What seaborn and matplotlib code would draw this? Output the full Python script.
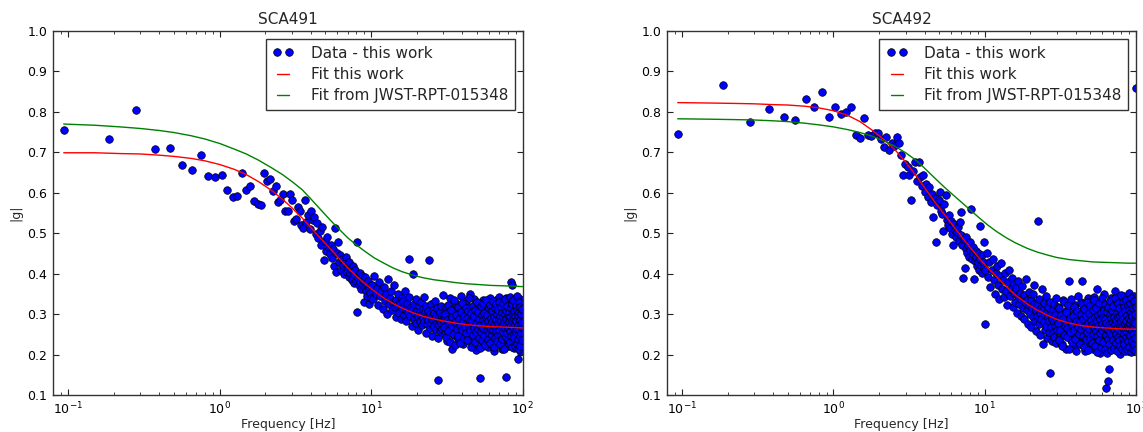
import matplotlib
matplotlib.use("Agg")
import matplotlib.pyplot as plt
from matplotlib.ticker import FixedLocator, FormatStrFormatter, LogLocator
from matplotlib.lines import Line2D
import seaborn as sns

# ---------------- data ----------------
titles = ["SCA491", "SCA492"]
legend_labels = ["Data - this work", "Fit this work", "Fit from JWST-RPT-015348"]
y_ticks = [0.1, 0.2, 0.3, 0.4, 0.5, 0.6, 0.7, 0.8, 0.9, 1.0]

# low-frequency bins (Hz)
freq_lo = [0.094, 0.187, 0.281, 0.374, 0.468, 0.561, 0.655, 0.748, 0.842, 0.935,
           1.03, 1.12, 1.22, 1.31, 1.40, 1.50, 1.59, 1.68, 1.78, 1.87,
           1.96, 2.06, 2.15, 2.24, 2.34, 2.43, 2.52, 2.62, 2.71, 2.81,
           2.90, 2.99, 3.09, 3.18, 3.27, 3.37, 3.46, 3.55, 3.65, 3.74,
           3.83, 3.93, 4.02, 4.11, 4.21, 4.30, 4.39, 4.49, 4.58, 4.68,
           4.77, 4.86, 4.96, 5.05, 5.14, 5.24, 5.33, 5.42, 5.52, 5.61,
           5.70, 5.80, 5.89, 5.98, 6.08, 6.17, 6.26, 6.36, 6.45, 6.55,
           6.64, 6.73, 6.83, 6.92, 7.01, 7.11, 7.20, 7.29, 7.39, 7.48,
           7.57, 7.67, 7.76, 7.85, 7.95, 8.04, 8.13, 8.23, 8.32, 8.42,
           8.51, 8.60, 8.70, 8.79, 8.88, 8.98, 9.07, 9.16, 9.26, 9.35,
           9.44, 9.54, 9.63, 9.72, 9.82, 9.91, 10.00]

g_a_lo = [0.755, 0.734, 0.804, 0.708, 0.710, 0.669, 0.656, 0.693, 0.642, 0.639,
          0.644, 0.608, 0.590, 0.591, 0.649, 0.606, 0.617, 0.580, 0.572, 0.569,
          0.649, 0.630, 0.635, 0.605, 0.618, 0.577, 0.582, 0.596, 0.554, 0.554,
          0.597, 0.581, 0.530, 0.535, 0.564, 0.554, 0.520, 0.514, 0.583, 0.528,
          0.546, 0.511, 0.555, 0.533, 0.540, 0.497, 0.525, 0.488, 0.505, 0.472,
          0.516, 0.433, 0.482, 0.455, 0.491, 0.466, 0.448, 0.470, 0.440, 0.462,
          0.418, 0.512, 0.404, 0.451, 0.478, 0.430, 0.445, 0.410, 0.437, 0.421,
          0.398, 0.426, 0.441, 0.405, 0.418, 0.392, 0.430, 0.401, 0.412, 0.385,
          0.420, 0.377, 0.398, 0.408, 0.382, 0.306, 0.478, 0.390, 0.371, 0.401,
          0.380, 0.362, 0.394, 0.373, 0.385, 0.330, 0.366, 0.392, 0.358, 0.375,
          0.346, 0.381, 0.324, 0.363, 0.352, 0.371, 0.340]

g_b_lo = [0.746, 0.866, 0.774, 0.807, 0.788, 0.780, 0.833, 0.811, 0.850, 0.788,
          0.811, 0.796, 0.800, 0.813, 0.744, 0.736, 0.786, 0.744, 0.740, 0.747,
          0.749, 0.733, 0.714, 0.739, 0.707, 0.722, 0.715, 0.738, 0.722, 0.693,
          0.644, 0.672, 0.664, 0.643, 0.582, 0.653, 0.676, 0.628, 0.676, 0.639,
          0.617, 0.645, 0.601, 0.622, 0.590, 0.615, 0.578, 0.596, 0.540, 0.588,
          0.478, 0.570, 0.583, 0.602, 0.555, 0.548, 0.506, 0.572, 0.594, 0.533,
          0.520, 0.545, 0.512, 0.530, 0.498, 0.470, 0.522, 0.508, 0.490, 0.503,
          0.515, 0.481, 0.528, 0.496, 0.553, 0.470, 0.389, 0.485, 0.413, 0.462,
          0.490, 0.452, 0.470, 0.441, 0.478, 0.458, 0.559, 0.437, 0.465, 0.449,
          0.388, 0.431, 0.456, 0.442, 0.418, 0.451, 0.430, 0.410, 0.517, 0.436,
          0.421, 0.445, 0.402, 0.428, 0.415, 0.478, 0.410]

# high-frequency bins (Hz), subset of the dense cloud
freq_hi = [10.1, 10.3, 10.5, 10.7, 10.9, 11.1, 11.3, 11.5, 11.7, 11.9,
           12.1, 12.3, 12.5, 12.7, 12.9, 13.1, 13.3, 13.5, 13.7, 13.9,
           14.1, 14.3, 14.5, 14.7, 14.9, 15.1, 15.3, 15.5, 15.7, 15.9,
           16.1, 16.3, 16.5, 16.7, 16.9, 17.1, 17.3, 17.5, 17.7, 17.9,
           18.1, 18.3, 18.5, 18.7, 18.9, 19.1, 19.3, 19.5, 19.7, 19.9,
           20.1, 20.3, 20.5, 20.7, 20.9, 21.1, 21.3, 21.5, 21.7, 21.9,
           22.1, 22.3, 22.5, 22.7, 22.9, 23.1, 23.3, 23.5, 23.7, 23.9,
           24.1, 24.3, 24.5, 24.7, 24.9, 25.1, 25.3, 25.5, 25.7, 25.9,
           26.1, 26.3, 26.5, 26.7, 26.9, 27.1, 27.3, 27.5, 27.7, 27.9,
           28.1, 28.3, 28.5, 28.7, 28.9, 29.1, 29.3, 29.5, 29.7, 29.9,
           30.2, 30.6, 31.0, 31.4, 31.8, 32.2, 32.6, 33.0, 33.4, 33.8,
           34.2, 34.6, 35.0, 35.4, 35.8, 36.2, 36.6, 37.0, 37.4, 37.8,
           38.2, 38.6, 39.0, 39.4, 39.8, 40.2, 40.6, 41.0, 41.4, 41.8,
           42.2, 42.6, 43.0, 43.4, 43.8, 44.2, 44.6, 45.0, 45.4, 45.8,
           46.2, 46.6, 47.0, 47.4, 47.8, 48.2, 48.6, 49.0, 49.4, 49.8,
           50.2, 50.6, 51.0, 51.4, 51.8, 52.2, 52.6, 53.0, 53.4, 53.8,
           54.2, 54.6, 55.0, 55.4, 55.8, 56.2, 56.6, 57.0, 57.4, 57.8,
           58.2, 58.6, 59.0, 59.4, 59.8, 60.2, 60.6, 61.0, 61.4, 61.8,
           62.2, 62.6, 63.0, 63.4, 63.8, 64.2, 64.6, 65.0, 65.4, 65.8,
           66.2, 66.6, 67.0, 67.4, 67.8, 68.2, 68.6, 69.0, 69.4, 69.8,
           70.2, 70.6, 71.0, 71.4, 71.8, 72.2, 72.6, 73.0, 73.4, 73.8,
           74.2, 74.6, 75.0, 75.4, 75.8, 76.2, 76.6, 77.0, 77.4, 77.8,
           78.2, 78.6, 79.0, 79.4, 79.8, 80.2, 80.6, 81.0, 81.4, 81.8,
           82.2, 82.6, 83.0, 83.4, 83.8, 84.2, 84.6, 85.0, 85.4, 85.8,
           86.2, 86.6, 87.0, 87.4, 87.8, 88.2, 88.6, 89.0, 89.4, 89.8,
           90.2, 90.6, 91.0, 91.4, 91.8, 92.2, 92.6, 93.0, 93.4, 93.8,
           94.2, 94.6, 95.0, 95.4, 95.8, 96.2, 96.6, 97.0, 97.4, 97.8,
           98.2, 98.6, 99.0, 99.4, 99.8]

g_a_hi = [0.372, 0.338, 0.395, 0.351, 0.365, 0.322, 0.380, 0.344, 0.358, 0.312,
          0.367, 0.333, 0.349, 0.301, 0.386, 0.326, 0.340, 0.357, 0.309, 0.331,
          0.371, 0.318, 0.294, 0.336, 0.322, 0.350, 0.304, 0.327, 0.288, 0.341,
          0.315, 0.332, 0.299, 0.358, 0.311, 0.283, 0.327, 0.305, 0.342, 0.436,
          0.296, 0.318, 0.271, 0.309, 0.399, 0.325, 0.288, 0.302, 0.337, 0.279,
          0.311, 0.296, 0.262, 0.321, 0.305, 0.284, 0.330, 0.298, 0.272, 0.313,
          0.290, 0.343, 0.281, 0.305, 0.254, 0.319, 0.293, 0.276, 0.308, 0.286,
          0.435, 0.266, 0.301, 0.324, 0.279, 0.293, 0.247, 0.311, 0.285, 0.270,
          0.302, 0.288, 0.333, 0.261, 0.296, 0.278, 0.314, 0.241, 0.136, 0.292,
          0.273, 0.306, 0.284, 0.259, 0.321, 0.277, 0.295, 0.263, 0.348, 0.286,
          0.296, 0.251, 0.318, 0.274, 0.233, 0.305, 0.282, 0.340, 0.262, 0.289,
          0.215, 0.311, 0.276, 0.248, 0.327, 0.293, 0.267, 0.304, 0.238, 0.283,
          0.321, 0.259, 0.292, 0.345, 0.271, 0.226, 0.299, 0.280, 0.314, 0.253,
          0.287, 0.332, 0.265, 0.301, 0.243, 0.278, 0.318, 0.349, 0.256, 0.290,
          0.272, 0.229, 0.306, 0.284, 0.337, 0.262, 0.295, 0.211, 0.276, 0.313,
          0.249, 0.288, 0.326, 0.268, 0.300, 0.143, 0.236, 0.281, 0.309, 0.258,
          0.293, 0.334, 0.221, 0.274, 0.297, 0.252, 0.316, 0.283, 0.240, 0.305,
          0.269, 0.328, 0.287, 0.219, 0.298, 0.261, 0.339, 0.276, 0.245, 0.311,
          0.284, 0.230, 0.302, 0.266, 0.323, 0.257, 0.291, 0.208, 0.279, 0.317,
          0.247, 0.296, 0.335, 0.270, 0.226, 0.303, 0.262, 0.288, 0.342, 0.254,
          0.281, 0.312, 0.237, 0.295, 0.268, 0.325, 0.250, 0.286, 0.214, 0.307,
          0.273, 0.329, 0.258, 0.299, 0.233, 0.284, 0.318, 0.264, 0.340, 0.292,
          0.144, 0.243, 0.306, 0.276, 0.221, 0.297, 0.259, 0.331, 0.283, 0.248,
          0.314, 0.270, 0.291, 0.228, 0.302, 0.380, 0.262, 0.371, 0.287, 0.239,
          0.308, 0.255, 0.327, 0.279, 0.216, 0.294, 0.266, 0.320, 0.245, 0.301,
          0.273, 0.336, 0.252, 0.289, 0.231, 0.310, 0.268, 0.296, 0.190, 0.282,
          0.322, 0.247, 0.303, 0.275, 0.210, 0.291, 0.338, 0.260, 0.284, 0.229,
          0.312, 0.270, 0.298, 0.235, 0.325]

g_b_hi = [0.275, 0.452, 0.391, 0.428, 0.366, 0.409, 0.437, 0.384, 0.351, 0.402,
          0.419, 0.372, 0.338, 0.395, 0.426, 0.361, 0.384, 0.343, 0.401, 0.357,
          0.322, 0.379, 0.408, 0.346, 0.361, 0.389, 0.317, 0.352, 0.375, 0.331,
          0.364, 0.302, 0.345, 0.381, 0.326, 0.352, 0.296, 0.338, 0.369, 0.315,
          0.347, 0.289, 0.331, 0.388, 0.309, 0.336, 0.276, 0.322, 0.355, 0.301,
          0.334, 0.268, 0.315, 0.349, 0.292, 0.326, 0.372, 0.283, 0.311, 0.258,
          0.322, 0.296, 0.531, 0.275, 0.338, 0.304, 0.249, 0.316, 0.287, 0.362,
          0.226, 0.309, 0.281, 0.327, 0.262, 0.298, 0.345, 0.271, 0.305, 0.240,
          0.292, 0.318, 0.256, 0.284, 0.331, 0.155, 0.268, 0.301, 0.234, 0.289,
          0.312, 0.253, 0.280, 0.326, 0.244, 0.297, 0.271, 0.339, 0.228, 0.286,
          0.262, 0.318, 0.241, 0.289, 0.305, 0.226, 0.274, 0.336, 0.253, 0.297,
          0.281, 0.215, 0.309, 0.267, 0.382, 0.248, 0.292, 0.327, 0.236, 0.276,
          0.301, 0.259, 0.218, 0.285, 0.322, 0.270, 0.244, 0.308, 0.263, 0.294,
          0.229, 0.279, 0.331, 0.256, 0.382, 0.298, 0.240, 0.287, 0.316, 0.268,
          0.209, 0.302, 0.251, 0.277, 0.339, 0.235, 0.290, 0.262, 0.311, 0.224,
          0.283, 0.246, 0.325, 0.270, 0.213, 0.296, 0.258, 0.343, 0.279, 0.237,
          0.304, 0.266, 0.361, 0.221, 0.288, 0.252, 0.319, 0.275, 0.205, 0.298,
          0.260, 0.331, 0.243, 0.285, 0.226, 0.309, 0.271, 0.350, 0.234, 0.292,
          0.254, 0.317, 0.218, 0.278, 0.118, 0.301, 0.263, 0.134, 0.239, 0.284,
          0.327, 0.165, 0.249, 0.296, 0.211, 0.273, 0.340, 0.257, 0.306, 0.228,
          0.286, 0.262, 0.318, 0.235, 0.279, 0.357, 0.247, 0.300, 0.216, 0.270,
          0.311, 0.253, 0.289, 0.338, 0.224, 0.276, 0.302, 0.242, 0.329, 0.264,
          0.202, 0.295, 0.258, 0.321, 0.237, 0.283, 0.310, 0.249, 0.272, 0.344,
          0.230, 0.298, 0.265, 0.315, 0.212, 0.287, 0.251, 0.326, 0.276, 0.240,
          0.305, 0.268, 0.221, 0.292, 0.335, 0.256, 0.280, 0.209, 0.311, 0.352,
          0.246, 0.287, 0.322, 0.262, 0.228, 0.301, 0.270, 0.338, 0.243, 0.293,
          0.216, 0.276, 0.313, 0.255, 0.290, 0.232, 0.345, 0.266, 0.307, 0.248,
          0.284, 0.225, 0.318, 0.262, 0.340]

# further bins of the dense cloud (30-100 Hz)
freq_hi2 = [30.4, 30.8, 31.2, 31.6, 32.0, 32.4, 32.8, 33.2, 33.6, 34.0,
            34.4, 34.8, 35.2, 35.6, 36.0, 36.4, 36.8, 37.2, 37.6, 38.0,
            38.4, 38.8, 39.2, 39.6, 40.0, 40.4, 40.8, 41.2, 41.6, 42.0,
            42.4, 42.8, 43.2, 43.6, 44.0, 44.4, 44.8, 45.2, 45.6, 46.0,
            46.4, 46.8, 47.2, 47.6, 48.0, 48.4, 48.8, 49.2, 49.6, 50.0,
            50.4, 50.8, 51.2, 51.6, 52.0, 52.4, 52.8, 53.2, 53.6, 54.0,
            54.4, 54.8, 55.2, 55.6, 56.0, 56.4, 56.8, 57.2, 57.6, 58.0,
            58.4, 58.8, 59.2, 59.6, 60.0, 60.4, 60.8, 61.2, 61.6, 62.0,
            62.4, 62.8, 63.2, 63.6, 64.0, 64.4, 64.8, 65.2, 65.6, 66.0,
            66.4, 66.8, 67.2, 67.6, 68.0, 68.4, 68.8, 69.2, 69.6, 70.0,
            70.4, 70.8, 71.2, 71.6, 72.0, 72.4, 72.8, 73.2, 73.6, 74.0,
            74.4, 74.8, 75.2, 75.6, 76.0, 76.4, 76.8, 77.2, 77.6, 78.0,
            78.4, 78.8, 79.2, 79.6, 80.0, 80.4, 80.8, 81.2, 81.6, 82.0,
            82.4, 82.8, 83.2, 83.6, 84.0, 84.4, 84.8, 85.2, 85.6, 86.0,
            86.4, 86.8, 87.2, 87.6, 88.0, 88.4, 88.8, 89.2, 89.6, 90.0,
            90.4, 90.8, 91.2, 91.6, 92.0, 92.4, 92.8, 93.2, 93.6, 94.0,
            94.4, 94.8, 95.2, 95.6, 96.0, 96.4, 96.8, 97.2, 97.6, 98.0,
            98.4, 98.8, 99.2, 99.6]

g_a_hi2 = [0.268, 0.301, 0.243, 0.286, 0.322, 0.259, 0.277, 0.231, 0.309, 0.270,
           0.292, 0.252, 0.335, 0.281, 0.223, 0.298, 0.264, 0.317, 0.247, 0.288,
           0.274, 0.229, 0.305, 0.261, 0.328, 0.283, 0.240, 0.296, 0.269, 0.314,
           0.254, 0.291, 0.236, 0.308, 0.272, 0.339, 0.260, 0.284, 0.218, 0.302,
           0.281, 0.249, 0.321, 0.266, 0.295, 0.232, 0.311, 0.275, 0.255, 0.329,
           0.263, 0.306, 0.241, 0.289, 0.217, 0.274, 0.319, 0.257, 0.297, 0.237,
           0.285, 0.327, 0.265, 0.246, 0.303, 0.278, 0.224, 0.292, 0.336, 0.260,
           0.299, 0.238, 0.282, 0.315, 0.253, 0.270, 0.322, 0.228, 0.290, 0.264,
           0.307, 0.248, 0.280, 0.333, 0.261, 0.219, 0.294, 0.272, 0.315, 0.242,
           0.286, 0.325, 0.256, 0.301, 0.234, 0.277, 0.309, 0.250, 0.289, 0.331,
           0.262, 0.296, 0.227, 0.283, 0.318, 0.248, 0.304, 0.271, 0.239, 0.293,
           0.327, 0.257, 0.281, 0.213, 0.300, 0.266, 0.337, 0.244, 0.288, 0.310,
           0.253, 0.276, 0.321, 0.235, 0.297, 0.268, 0.226, 0.305, 0.280, 0.342,
           0.259, 0.292, 0.230, 0.314, 0.272, 0.246, 0.326, 0.285, 0.218, 0.303,
           0.267, 0.335, 0.250, 0.289, 0.241, 0.308, 0.274, 0.222, 0.296, 0.319,
           0.256, 0.283, 0.226, 0.311, 0.264, 0.344, 0.239, 0.298, 0.272, 0.213,
           0.305, 0.263, 0.329, 0.247, 0.286, 0.220, 0.317, 0.276, 0.254, 0.301,
           0.268, 0.236, 0.312, 0.281]

g_b_hi2 = [0.279, 0.236, 0.314, 0.261, 0.298, 0.222, 0.287, 0.329, 0.249, 0.271,
           0.305, 0.243, 0.266, 0.322, 0.214, 0.290, 0.255, 0.337, 0.276, 0.231,
           0.296, 0.262, 0.318, 0.239, 0.284, 0.210, 0.307, 0.268, 0.345, 0.252,
           0.281, 0.225, 0.300, 0.263, 0.326, 0.246, 0.289, 0.218, 0.312, 0.270,
           0.238, 0.295, 0.257, 0.331, 0.277, 0.212, 0.303, 0.264, 0.241, 0.319,
           0.285, 0.228, 0.273, 0.309, 0.250, 0.336, 0.267, 0.221, 0.294, 0.258,
           0.316, 0.245, 0.282, 0.207, 0.299, 0.271, 0.328, 0.236, 0.288, 0.253,
           0.302, 0.219, 0.276, 0.341, 0.260, 0.293, 0.232, 0.311, 0.269, 0.215,
           0.287, 0.324, 0.248, 0.278, 0.205, 0.306, 0.262, 0.239, 0.317, 0.274,
           0.226, 0.297, 0.255, 0.333, 0.268, 0.212, 0.290, 0.246, 0.309, 0.280,
           0.235, 0.321, 0.263, 0.293, 0.217, 0.276, 0.339, 0.251, 0.285, 0.229,
           0.304, 0.266, 0.208, 0.292, 0.327, 0.244, 0.279, 0.315, 0.237, 0.270,
           0.296, 0.222, 0.283, 0.348, 0.258, 0.213, 0.301, 0.267, 0.330, 0.241,
           0.288, 0.251, 0.318, 0.227, 0.275, 0.307, 0.209, 0.264, 0.336, 0.282,
           0.243, 0.299, 0.256, 0.213, 0.322, 0.271, 0.234, 0.310, 0.265, 0.290,
           0.219, 0.327, 0.277, 0.248, 0.305, 0.206, 0.286, 0.341, 0.259, 0.231,
           0.296, 0.270, 0.214, 0.314, 0.252, 0.283, 0.226, 0.332, 0.267, 0.240,
           0.301, 0.211, 0.279, 0.318]

# isolated point at the right edge of SCA492
freq_b_extra = [99.9]
g_b_extra = [0.858]

# fitted curves
fit_freq = [0.0935, 0.15, 0.22, 0.3, 0.4, 0.5, 0.65, 0.8, 1.0, 1.25,
            1.5, 1.8, 2.2, 2.6, 3.0, 3.5, 4.0, 4.6, 5.3, 6.0,
            7.0, 8.0, 9.2, 10.5, 12, 14, 16, 19, 22, 26,
            30, 36, 43, 52, 62, 75, 88, 100]
fit_a_this = [0.699, 0.699, 0.697, 0.696, 0.693, 0.690, 0.685, 0.679, 0.670, 0.658,
              0.645, 0.628, 0.606, 0.584, 0.563, 0.538, 0.514, 0.489, 0.464, 0.442,
              0.415, 0.394, 0.374, 0.357, 0.341, 0.326, 0.315, 0.303, 0.295, 0.288,
              0.283, 0.278, 0.274, 0.271, 0.269, 0.268, 0.267, 0.266]
fit_a_rpt = [0.770, 0.767, 0.763, 0.759, 0.754, 0.749, 0.741, 0.733, 0.722, 0.708,
             0.696, 0.681, 0.662, 0.645, 0.628, 0.608, 0.585, 0.560, 0.535, 0.514,
             0.489, 0.471, 0.454, 0.439, 0.427, 0.414, 0.405, 0.396, 0.390, 0.385,
             0.382, 0.378, 0.375, 0.373, 0.371, 0.370, 0.369, 0.368]
fit_b_this = [0.823, 0.822, 0.821, 0.820, 0.818, 0.817, 0.814, 0.810, 0.803, 0.791,
              0.776, 0.755, 0.729, 0.703, 0.676, 0.643, 0.613, 0.581, 0.551, 0.525,
              0.492, 0.465, 0.438, 0.414, 0.392, 0.367, 0.347, 0.326, 0.311, 0.297,
              0.287, 0.278, 0.272, 0.268, 0.266, 0.264, 0.263, 0.263]
fit_b_rpt = [0.783, 0.782, 0.781, 0.780, 0.778, 0.776, 0.772, 0.768, 0.763, 0.756,
             0.749, 0.740, 0.727, 0.713, 0.699, 0.681, 0.661, 0.639, 0.617, 0.599,
             0.577, 0.558, 0.538, 0.520, 0.504, 0.488, 0.476, 0.463, 0.454, 0.446,
             0.440, 0.435, 0.432, 0.429, 0.428, 0.427, 0.426, 0.426]

for a, b in [(freq_lo, g_a_lo), (freq_lo, g_b_lo), (freq_hi, g_a_hi), (freq_hi, g_b_hi),
             (freq_hi2, g_a_hi2), (freq_hi2, g_b_hi2),
             (fit_freq, fit_a_this), (fit_freq, fit_a_rpt), (fit_freq, fit_b_this), (fit_freq, fit_b_rpt)]:
    assert len(a) == len(b), (len(a), len(b))

# ---------------- styling ----------------
sns.set_theme(style="white")
plt.rcParams["font.family"] = ["DejaVu Sans"]
plt.rcParams["mathtext.fontset"] = "dejavusans"

fig = plt.figure(figsize=(11.43, 4.32), dpi=100)
fig.patch.set_facecolor("white")
ax_pos = [[0.0464, 0.0856, 0.4108, 0.8426], [0.5836, 0.0856, 0.4103, 0.8426]]

panels = [
    (freq_lo + freq_hi + freq_hi2, g_a_lo + g_a_hi + g_a_hi2, fit_a_this, fit_a_rpt),
    (freq_lo + freq_hi + freq_hi2 + freq_b_extra, g_b_lo + g_b_hi + g_b_hi2 + g_b_extra,
     fit_b_this, fit_b_rpt),
]

for i, (fx, gy, fthis, frpt) in enumerate(panels):
    ax = fig.add_axes(ax_pos[i])
    ax.set_facecolor("white")
    sns.scatterplot(x=fx, y=gy, ax=ax, color="#0000ff", edgecolor="black",
                    linewidth=0.5, s=30, zorder=2)
    sns.lineplot(x=fit_freq, y=fthis, ax=ax, color="#ff0000", linewidth=1.0,
                 zorder=3, estimator=None)
    sns.lineplot(x=fit_freq, y=frpt, ax=ax, color="#008000", linewidth=1.0,
                 zorder=3, estimator=None)
    ax.set_xscale("log")
    ax.set_xlim(0.0795, 100)
    ax.set_ylim(0.1, 1.0)
    ax.yaxis.set_major_locator(FixedLocator(y_ticks))
    ax.yaxis.set_major_formatter(FormatStrFormatter("%.1f"))
    ax.xaxis.set_major_locator(LogLocator(base=10))
    ax.xaxis.set_minor_locator(LogLocator(base=10, subs=[2, 3, 4, 5, 6, 7, 8, 9]))
    ax.tick_params(which="both", direction="in", top=True, right=True,
                   bottom=True, left=True, colors="#222222", labelcolor="black")
    ax.tick_params(which="major", length=4, width=0.8, labelsize=9, pad=4)
    ax.tick_params(which="minor", length=2, width=0.6)
    for sp in ax.spines.values():
        sp.set_visible(True)
        sp.set_color("#333333")
        sp.set_linewidth(1.0)
    ax.set_title(titles[i], fontsize=11, pad=5)
    ax.set_xlabel("Frequency [Hz]", fontsize=9)
    ax.xaxis.set_label_coords(0.5, -0.063)
    ax.set_ylabel("|g|", fontsize=9, labelpad=4)
    handles = [
        Line2D([], [], linestyle="none", marker="o", markersize=5.5,
               markerfacecolor="#0000ff", markeredgecolor="black", markeredgewidth=0.5),
        Line2D([], [], color="#ff0000", linewidth=1.0),
        Line2D([], [], color="#008000", linewidth=1.0),
    ]
    leg = ax.legend(handles, legend_labels, loc="upper right", numpoints=2,
                    fontsize=11, handlelength=1.4, handletextpad=1.1,
                    labelspacing=0.42, borderpad=0.45, borderaxespad=0.5,
                    frameon=True, fancybox=False, framealpha=1.0)
    leg.get_frame().set_edgecolor("#333333")
    leg.get_frame().set_linewidth(1.0)

fig.savefig("out.png", dpi=100, facecolor="white")
